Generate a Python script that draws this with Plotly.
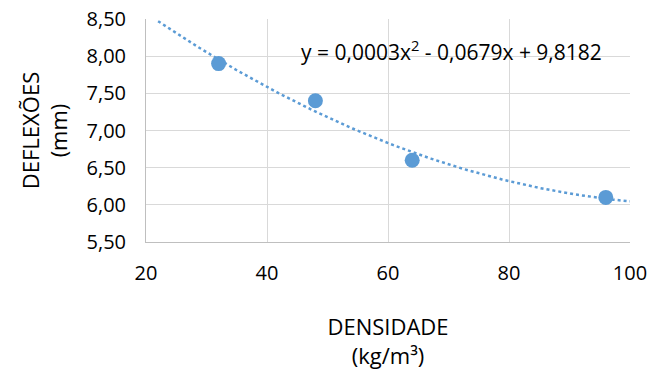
import numpy as np
import plotly.graph_objects as go

densidade = [32, 48, 64, 96]
deflexoes = [7.90, 7.40, 6.60, 6.10]
x_ticks = [20, 40, 60, 80, 100]
y_ticks = [5.5, 6.0, 6.5, 7.0, 7.5, 8.0, 8.5]
eq_text = "y = 0,0003x<sup>2</sup> - 0,0679x + 9,8182"

coef = np.polyfit(densidade, deflexoes, 2)
xt = np.linspace(22, 100, 200)
yt = np.polyval(coef, xt)

color = "#5B9BD5"
font = "Open Sans"

fig = go.Figure()
fig.add_trace(go.Scatter(x=xt, y=yt, mode="lines",
                         line=dict(color=color, width=2.5, dash="dot"),
                         hoverinfo="skip", showlegend=False))
fig.add_trace(go.Scatter(x=densidade, y=deflexoes, mode="markers",
                         marker=dict(color=color, size=15),
                         showlegend=False))

fig.add_annotation(x=70.5, y=8.08, xref="x", yref="y", xanchor="center",
                   yanchor="middle", text=eq_text, showarrow=False,
                   font=dict(family=font, size=21, color="#000000"))

fig.update_layout(
    width=649, height=376,
    margin=dict(l=146, r=19, t=19, b=134, autoexpand=False),
    paper_bgcolor="white", plot_bgcolor="white",
    separators=", ",
    font=dict(family=font, size=20, color="#000000"),
    xaxis=dict(range=[20, 100], tickvals=x_ticks, tickformat="d",
               showgrid=True, gridcolor="#d9d9d9", gridwidth=1,
               showline=True, linecolor="#bfbfbf", linewidth=1,
               zeroline=False, ticks="", ticklabelstandoff=13,
               ticklabeloverflow="allow", automargin=False,
               tickfont=dict(family=font, size=20),
               title=dict(text="DENSIDADE<br>(kg/m³)", standoff=34,
                          font=dict(family=font, size=22))),
    yaxis=dict(range=[5.5, 8.5], tickvals=y_ticks, tickformat=".2f",
               showgrid=True, gridcolor="#d9d9d9", gridwidth=1,
               showline=True, linecolor="#bfbfbf", linewidth=1,
               zeroline=False, ticks="", ticklabelstandoff=15,
               ticklabeloverflow="allow", automargin=False,
               tickfont=dict(family=font, size=20),
               title=dict(text="DEFLEXÕES<br>(mm)", standoff=12,
                          font=dict(family=font, size=22))),
)

fig.write_html("out.html")
